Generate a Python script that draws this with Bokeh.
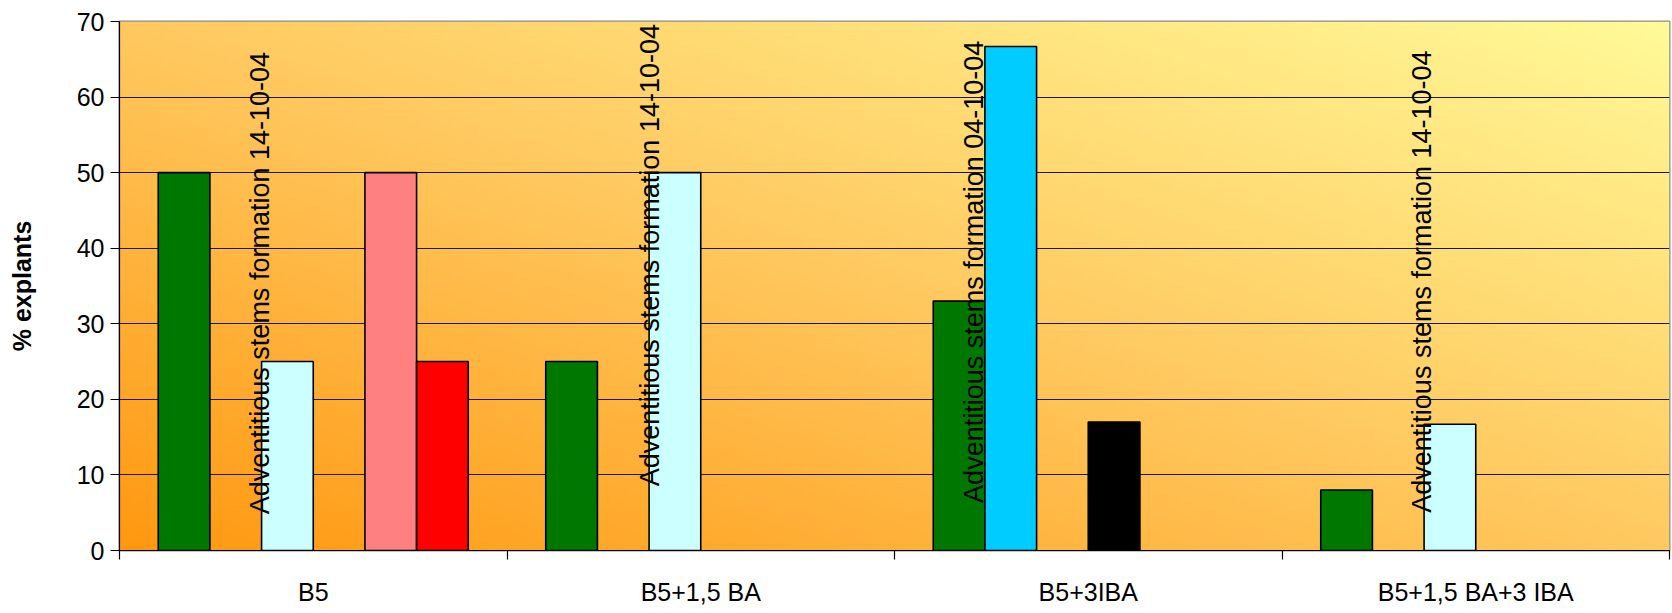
import numpy as np
from bokeh.plotting import figure
from bokeh.models import FixedTicker, Range1d, ColumnDataSource
from bokeh.embed import file_html
from bokeh.resources import INLINE
from bokeh.core.properties import value

# ---- data -------------------------------------------------------------
categories = ["B5", "B5+1,5 BA", "B5+3IBA", "B5+1,5 BA+3 IBA"]

# % explants for each series, one value per medium (0 = no bar)
green_vals = [50, 25, 33, 8]
skyblue_vals = [0, 0, 66.7, 0]
lightcyan_vals = [25, 50, 0, 16.7]
black_vals = [0, 0, 17, 0]
pink_vals = [50, 0, 0, 0]
red_vals = [25, 0, 0, 0]

series_vals = [green_vals, skyblue_vals, lightcyan_vals, black_vals, pink_vals, red_vals]
series_colors = ["#007800", "#00CCFF", "#CCFFFF", "#000000", "#FF8080", "#FF0000"]

# vertical notes written over each group
note_texts = [
    "Adventitious stems formation 14-10-04",
    "Adventitious stems formation 14-10-04",
    "Adventitious stems formation 04-10-04",
    "Adventitious stems formation 14-10-04",
]
note_start = [4.8, 8.5, 6.3, 5.0]        # value where each note begins
note_pos = [0.363, 0.370, 0.206, 0.360]  # position inside the group (0..1)

y_ticks = [0, 10, 20, 30, 40, 50, 60, 70]

# ---- layout helpers -----------------------------------------------------
n_series = len(series_vals)
gap = 1.5                                 # gap width = 150 % of a bar
slot = 1.0 / (n_series + gap)
FONT = "Liberation Sans"

p = figure(
    width=1672, height=613,
    output_backend="svg", toolbar_location=None,
    x_range=Range1d(0, len(categories)), y_range=Range1d(0, 70),
    min_border_left=119, min_border_right=3,
    min_border_top=21, min_border_bottom=63,
    background_fill_color="white", border_fill_color="white",
)

# gradient plot area: deep orange bottom-left to pale yellow top-right
H, W = 120, 360
u = np.linspace(0, 1, W)[None, :]
v = np.linspace(0, 1, H)[:, None]
t = (u + v) / 2.0
stops_t = [0.0, 0.5, 1.0]
r = np.interp(t, stops_t, [255, 255, 255])
g = np.interp(t, stops_t, [152, 201, 250])
b = np.interp(t, stops_t, [16, 96, 152])
img = np.empty((H, W), dtype=np.uint32)
view = img.view(dtype=np.uint8).reshape((H, W, 4))
view[:, :, 0] = r.astype(np.uint8)
view[:, :, 1] = g.astype(np.uint8)
view[:, :, 2] = b.astype(np.uint8)
view[:, :, 3] = 255
p.image_rgba(image=[img], x=0, y=0, dw=len(categories), dh=70, level="image")

# bars
for i, (vals, col) in enumerate(zip(series_vals, series_colors)):
    xs, tops = [], []
    for c, val in enumerate(vals):
        if val > 0:
            xs.append(c + slot * gap / 2 + slot * (i + 0.5))
            tops.append(val)
    if xs:
        src = ColumnDataSource(dict(x=xs, top=tops))
        p.vbar(x="x", top="top", bottom=0, width=slot, source=src,
               fill_color=col, line_color="black", line_width=1.6)

# vertical notes
note_src = ColumnDataSource(dict(
    x=[c + off for c, off in enumerate(note_pos)],
    y=note_start,
    text=note_texts,
))
p.text(x="x", y="y", text="text", source=note_src, angle=np.pi / 2,
       text_align="left", text_baseline="middle",
       text_font=value(FONT), text_font_size="27px", text_color="black")

# grid
p.xgrid.visible = False
p.ygrid.ticker = FixedTicker(ticks=y_ticks)
p.ygrid.grid_line_color = "#1a1a1a"
p.ygrid.grid_line_width = 1.2
p.outline_line_color = "#8c8c8c"
p.outline_line_width = 2

# y axis
p.yaxis.ticker = FixedTicker(ticks=y_ticks)
p.yaxis.axis_label = "% explants"
p.yaxis.axis_label_text_font = FONT
p.yaxis.axis_label_text_font_style = "bold"
p.yaxis.axis_label_text_font_size = "25px"
p.yaxis.axis_label_text_color = "black"
p.yaxis.axis_label_standoff = 38
p.yaxis.major_label_text_font = FONT
p.yaxis.major_label_text_font_size = "25px"
p.yaxis.major_label_text_color = "black"
p.yaxis.major_label_standoff = 6
p.yaxis.major_tick_out = 9
p.yaxis.major_tick_in = 0
p.yaxis.minor_tick_line_color = None
p.yaxis.axis_line_color = "black"
p.yaxis.axis_line_width = 1.2
p.yaxis.major_tick_line_width = 1.2
p.yaxis.major_tick_line_color = "black"

# x axis: labels centred on groups, tick marks at group boundaries
centers = [c + 0.5 for c in range(len(categories))]
p.xaxis.ticker = FixedTicker(ticks=centers, minor_ticks=list(range(len(categories) + 1)))
p.xaxis.major_label_overrides = {c: lab for c, lab in zip(centers, categories)}
p.xaxis.major_tick_line_color = None
p.xaxis.minor_tick_out = 9
p.xaxis.minor_tick_in = 0
p.xaxis.minor_tick_line_color = "black"
p.xaxis.minor_tick_line_width = 1.2
p.xaxis.major_label_text_font = FONT
p.xaxis.major_label_text_font_size = "25px"
p.xaxis.major_label_text_color = "black"
p.xaxis.major_label_standoff = 18
p.xaxis.axis_line_color = "black"
p.xaxis.axis_line_width = 1.2

open("out.html", "w").write(file_html(p, INLINE))
